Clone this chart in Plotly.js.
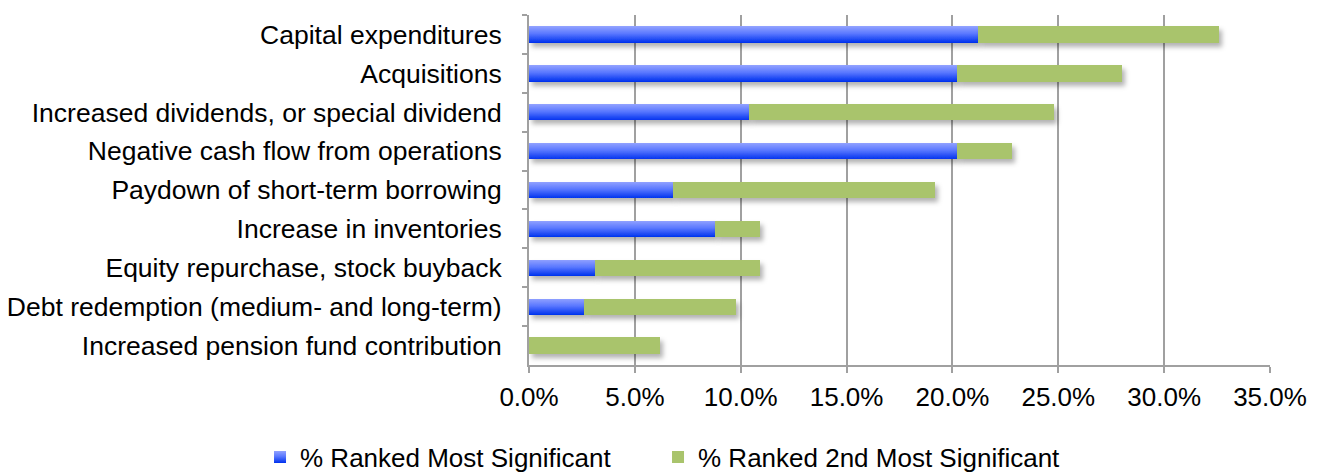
<!DOCTYPE html>
<html>
<head>
<meta charset="utf-8">
<script src="https://cdn.plot.ly/plotly-3.0.1.min.js"></script>
<style>html,body{margin:0;padding:0;background:#fff;}#chart{width:1321px;height:473px;}</style>
</head>
<body>
<div id="chart"></div>
<script>
const categories = [
  "Capital expenditures",
  "Acquisitions",
  "Increased dividends, or special dividend",
  "Negative cash flow from operations",
  "Paydown of short-term borrowing",
  "Increase in inventories",
  "Equity repurchase, stock buyback",
  "Debt redemption (medium- and long-term)",
  "Increased pension fund contribution"
];
const mostSignificant = [21.2, 20.2, 10.4, 20.2, 6.8, 8.8, 3.1, 2.6, 0.0];
const secondMostSignificant = [11.4, 7.8, 14.4, 2.6, 12.4, 2.1, 7.8, 7.2, 6.2];
const tickValues = [0, 5, 10, 15, 20, 25, 30, 35];
const tickLabels = ["0.0%", "5.0%", "10.0%", "15.0%", "20.0%", "25.0%", "30.0%", "35.0%"];

const data = [
  {
    type: "bar", orientation: "h",
    y: categories, x: mostSignificant,
    name: "% Ranked Most Significant",
    legendwidth: 353,
    marker: {color: "#3358f2", line: {width: 0}}
  },
  {
    type: "bar", orientation: "h",
    y: categories, x: secondMostSignificant,
    name: "% Ranked 2nd Most Significant",
    legendwidth: 420,
    marker: {color: "#a9c46c", line: {width: 0}}
  }
];

const layout = {
  width: 1321, height: 473,
  margin: {l: 529, r: 51, t: 15, b: 108, autoexpand: false},
  barmode: "stack",
  bargap: 0.58,
  paper_bgcolor: "#fff", plot_bgcolor: "#fff",
  font: {family: "Liberation Sans, Arial, sans-serif", size: 26, color: "#000"},
  showlegend: true,
  legend: {
    orientation: "h",
    xref: "paper", yref: "paper",
    x: -0.363, xanchor: "left",
    y: -0.263, yanchor: "middle",
    font: {size: 26}, traceorder: "normal",
    itemwidth: 30,
    borderwidth: 0, bgcolor: "rgba(0,0,0,0)"
  },
  xaxis: {
    range: [0, 35],
    tickvals: tickValues, ticktext: tickLabels,
    showgrid: true, gridcolor: "#a0a0a0", gridwidth: 2,
    showline: true, linecolor: "#a0a0a0", linewidth: 2,
    ticks: "outside", ticklen: 6, tickcolor: "#a0a0a0", tickwidth: 2,
    ticklabelstandoff: 2,
    zeroline: false, fixedrange: true
  },
  yaxis: {
    type: "category",
    autorange: "reversed",
    showline: true, linecolor: "#a0a0a0", linewidth: 2,
    ticks: "outside", ticklen: 5, tickcolor: "#a0a0a0", tickwidth: 2,
    tickson: "boundaries",
    tickfont: {size: 26.5},
    ticklabelstandoff: 20,
    showgrid: false, zeroline: false, fixedrange: true
  }
};

Plotly.newPlot("chart", data, layout, {displayModeBar: false, staticPlot: true}).then(function (gd) {
  const NS = "http://www.w3.org/2000/svg";
  const svg = gd.querySelector(".main-svg");
  let defs = svg.querySelector("defs");
  if (!defs) { defs = document.createElementNS(NS, "defs"); svg.insertBefore(defs, svg.firstChild); }
  const grad = document.createElementNS(NS, "linearGradient");
  grad.setAttribute("id", "blueGrad");
  grad.setAttribute("x1", "0"); grad.setAttribute("y1", "0");
  grad.setAttribute("x2", "0"); grad.setAttribute("y2", "1");
  [["0", "#92a2ff"], ["0.45", "#5a78ff"], ["1", "#0032ee"]].forEach(function (s) {
    const st = document.createElementNS(NS, "stop");
    st.setAttribute("offset", s[0]); st.setAttribute("stop-color", s[1]);
    grad.appendChild(st);
  });
  defs.appendChild(grad);
  const filt = document.createElementNS(NS, "filter");
  filt.setAttribute("id", "barShadow");
  filt.setAttribute("x", "-5%"); filt.setAttribute("y", "-20%");
  filt.setAttribute("width", "115%"); filt.setAttribute("height", "160%");
  const ds = document.createElementNS(NS, "feDropShadow");
  ds.setAttribute("dx", "3"); ds.setAttribute("dy", "4");
  ds.setAttribute("stdDeviation", "2.5");
  ds.setAttribute("flood-color", "#000"); ds.setAttribute("flood-opacity", "0.3");
  filt.appendChild(ds);
  defs.appendChild(filt);

  const traces = gd.querySelectorAll(".barlayer .trace");
  if (traces[0]) traces[0].querySelectorAll("path").forEach(function (p) { p.style.fill = "url(#blueGrad)"; });
  traces.forEach(function (t) { t.setAttribute("filter", "url(#barShadow)"); });
  const leg = gd.querySelectorAll(".legend .traces");
  if (leg[0]) leg[0].querySelectorAll(".legendpoints path").forEach(function (p) { p.style.fill = "url(#blueGrad)"; });
});
</script>
</body>
</html>
